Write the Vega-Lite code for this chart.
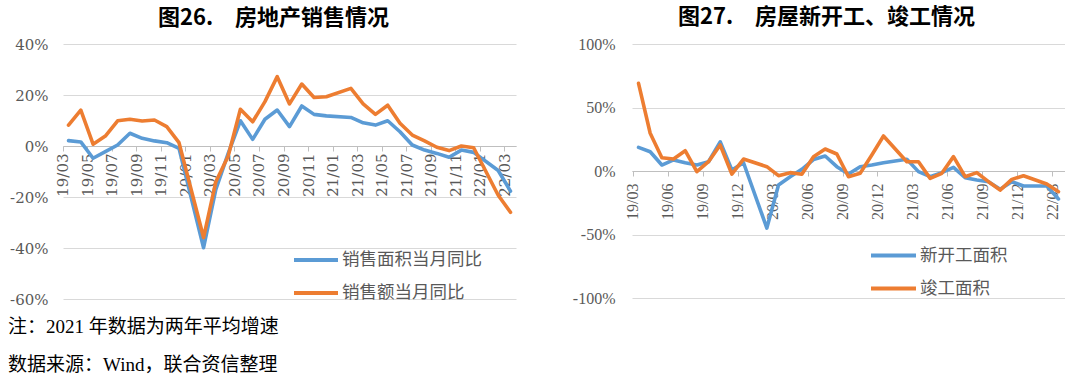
{
  "$schema": "https://vega.github.io/schema/vega-lite/v6.json",
  "background": "white",
  "padding": {"left": 0, "top": 6, "right": 0, "bottom": 0},
  "config": {"view": {"stroke": null}, "concat": {"spacing": 56}},
  "datasets": {
    "sales": [
      {"s": "销售面积当月同比", "m": "19/03", "v": 2.1},
      {"s": "销售面积当月同比", "m": "19/04", "v": 1.6},
      {"s": "销售面积当月同比", "m": "19/05", "v": -4.8},
      {"s": "销售面积当月同比", "m": "19/06", "v": -2.2},
      {"s": "销售面积当月同比", "m": "19/07", "v": 0.4},
      {"s": "销售面积当月同比", "m": "19/08", "v": 5.0},
      {"s": "销售面积当月同比", "m": "19/09", "v": 3.0},
      {"s": "销售面积当月同比", "m": "19/10", "v": 2.0},
      {"s": "销售面积当月同比", "m": "19/11", "v": 1.3},
      {"s": "销售面积当月同比", "m": "19/12", "v": -0.9},
      {"s": "销售面积当月同比", "m": "20/02", "v": -39.9},
      {"s": "销售面积当月同比", "m": "20/03", "v": -17},
      {"s": "销售面积当月同比", "m": "20/04", "v": -3},
      {"s": "销售面积当月同比", "m": "20/05", "v": 9.9},
      {"s": "销售面积当月同比", "m": "20/06", "v": 2.6},
      {"s": "销售面积当月同比", "m": "20/07", "v": 10.5},
      {"s": "销售面积当月同比", "m": "20/08", "v": 14.1},
      {"s": "销售面积当月同比", "m": "20/09", "v": 7.6},
      {"s": "销售面积当月同比", "m": "20/10", "v": 15.7},
      {"s": "销售面积当月同比", "m": "20/11", "v": 12.4},
      {"s": "销售面积当月同比", "m": "20/12", "v": 11.8},
      {"s": "销售面积当月同比", "m": "21/02", "v": 11.2},
      {"s": "销售面积当月同比", "m": "21/03", "v": 9.1},
      {"s": "销售面积当月同比", "m": "21/04", "v": 8.2},
      {"s": "销售面积当月同比", "m": "21/05", "v": 9.9},
      {"s": "销售面积当月同比", "m": "21/06", "v": 5.6},
      {"s": "销售面积当月同比", "m": "21/07", "v": 0.4},
      {"s": "销售面积当月同比", "m": "21/08", "v": -1.6},
      {"s": "销售面积当月同比", "m": "21/09", "v": -2.9},
      {"s": "销售面积当月同比", "m": "21/10", "v": -4.4},
      {"s": "销售面积当月同比", "m": "21/11", "v": -1.6},
      {"s": "销售面积当月同比", "m": "21/12", "v": -2.5},
      {"s": "销售面积当月同比", "m": "22/02", "v": -9.6},
      {"s": "销售面积当月同比", "m": "22/03", "v": -17.7},
      {"s": "销售额当月同比", "m": "19/03", "v": 8.2},
      {"s": "销售额当月同比", "m": "19/04", "v": 14.1},
      {"s": "销售额当月同比", "m": "19/05", "v": 0.7},
      {"s": "销售额当月同比", "m": "19/06", "v": 3.9},
      {"s": "销售额当月同比", "m": "19/07", "v": 9.9},
      {"s": "销售额当月同比", "m": "19/08", "v": 10.5},
      {"s": "销售额当月同比", "m": "19/09", "v": 9.8},
      {"s": "销售额当月同比", "m": "19/10", "v": 10.2},
      {"s": "销售额当月同比", "m": "19/11", "v": 7.6},
      {"s": "销售额当月同比", "m": "19/12", "v": 1.3},
      {"s": "销售额当月同比", "m": "20/02", "v": -35.9},
      {"s": "销售额当月同比", "m": "20/03", "v": -14},
      {"s": "销售额当月同比", "m": "20/04", "v": -4},
      {"s": "销售额当月同比", "m": "20/05", "v": 14.4},
      {"s": "销售额当月同比", "m": "20/06", "v": 9.5},
      {"s": "销售额当月同比", "m": "20/07", "v": 17.4},
      {"s": "销售额当月同比", "m": "20/08", "v": 27.2},
      {"s": "销售额当月同比", "m": "20/09", "v": 16.5},
      {"s": "销售额当月同比", "m": "20/10", "v": 24.3},
      {"s": "销售额当月同比", "m": "20/11", "v": 19.0},
      {"s": "销售额当月同比", "m": "20/12", "v": 19.3},
      {"s": "销售额当月同比", "m": "21/02", "v": 22.6},
      {"s": "销售额当月同比", "m": "21/03", "v": 16.5},
      {"s": "销售额当月同比", "m": "21/04", "v": 12.4},
      {"s": "销售额当月同比", "m": "21/05", "v": 16.0},
      {"s": "销售额当月同比", "m": "21/06", "v": 8.9},
      {"s": "销售额当月同比", "m": "21/07", "v": 4.3},
      {"s": "销售额当月同比", "m": "21/08", "v": 2.0},
      {"s": "销售额当月同比", "m": "21/09", "v": -0.5},
      {"s": "销售额当月同比", "m": "21/10", "v": -1.8},
      {"s": "销售额当月同比", "m": "21/11", "v": 0.0},
      {"s": "销售额当月同比", "m": "21/12", "v": -0.7},
      {"s": "销售额当月同比", "m": "22/02", "v": -19.3},
      {"s": "销售额当月同比", "m": "22/03", "v": -26.0}
    ],
    "build": [
      {"s": "新开工面积", "m": "19/03", "v": 18.6},
      {"s": "新开工面积", "m": "19/04", "v": 15.2},
      {"s": "新开工面积", "m": "19/05", "v": 4.7},
      {"s": "新开工面积", "m": "19/06", "v": 8.7},
      {"s": "新开工面积", "m": "19/07", "v": 6.5},
      {"s": "新开工面积", "m": "19/08", "v": 4.7},
      {"s": "新开工面积", "m": "19/09", "v": 7.3},
      {"s": "新开工面积", "m": "19/10", "v": 23.0},
      {"s": "新开工面积", "m": "19/11", "v": 0.8},
      {"s": "新开工面积", "m": "19/12", "v": 6.5},
      {"s": "新开工面积", "m": "20/02", "v": -44.9},
      {"s": "新开工面积", "m": "20/03", "v": -11},
      {"s": "新开工面积", "m": "20/04", "v": -4.5},
      {"s": "新开工面积", "m": "20/05", "v": 1.3},
      {"s": "新开工面积", "m": "20/06", "v": 9.0},
      {"s": "新开工面积", "m": "20/07", "v": 11.8},
      {"s": "新开工面积", "m": "20/08", "v": 3.4},
      {"s": "新开工面积", "m": "20/09", "v": -2.4},
      {"s": "新开工面积", "m": "20/10", "v": 3.4},
      {"s": "新开工面积", "m": "20/11", "v": 4.7},
      {"s": "新开工面积", "m": "20/12", "v": 6.5},
      {"s": "新开工面积", "m": "21/02", "v": 9.2},
      {"s": "新开工面积", "m": "21/03", "v": -0.5},
      {"s": "新开工面积", "m": "21/04", "v": -4.5},
      {"s": "新开工面积", "m": "21/05", "v": -1.3},
      {"s": "新开工面积", "m": "21/06", "v": 2.9},
      {"s": "新开工面积", "m": "21/07", "v": -5.3},
      {"s": "新开工面积", "m": "21/08", "v": -7.1},
      {"s": "新开工面积", "m": "21/09", "v": -8.4},
      {"s": "新开工面积", "m": "21/10", "v": -14.4},
      {"s": "新开工面积", "m": "21/11", "v": -8.4},
      {"s": "新开工面积", "m": "21/12", "v": -11.8},
      {"s": "新开工面积", "m": "22/02", "v": -11.8},
      {"s": "新开工面积", "m": "22/03", "v": -22.0},
      {"s": "竣工面积", "m": "19/03", "v": 69.0},
      {"s": "竣工面积", "m": "19/04", "v": 29.7},
      {"s": "竣工面积", "m": "19/05", "v": 10.5},
      {"s": "竣工面积", "m": "19/06", "v": 9.4},
      {"s": "竣工面积", "m": "19/07", "v": 16.0},
      {"s": "竣工面积", "m": "19/08", "v": -0.5},
      {"s": "竣工面积", "m": "19/09", "v": 7.3},
      {"s": "竣工面积", "m": "19/10", "v": 20.5},
      {"s": "竣工面积", "m": "19/11", "v": -2.4},
      {"s": "竣工面积", "m": "19/12", "v": 9.4},
      {"s": "竣工面积", "m": "20/02", "v": 3.4},
      {"s": "竣工面积", "m": "20/03", "v": -3.7},
      {"s": "竣工面积", "m": "20/04", "v": -1.3},
      {"s": "竣工面积", "m": "20/05", "v": -2.6},
      {"s": "竣工面积", "m": "20/06", "v": 11.3},
      {"s": "竣工面积", "m": "20/07", "v": 17.3},
      {"s": "竣工面积", "m": "20/08", "v": 13.4},
      {"s": "竣工面积", "m": "20/09", "v": -4.5},
      {"s": "竣工面积", "m": "20/10", "v": -1.8},
      {"s": "竣工面积", "m": "20/11", "v": 12.6},
      {"s": "竣工面积", "m": "20/12", "v": 27.6},
      {"s": "竣工面积", "m": "21/02", "v": 7.3},
      {"s": "竣工面积", "m": "21/03", "v": 7.3},
      {"s": "竣工面积", "m": "21/04", "v": -5.8},
      {"s": "竣工面积", "m": "21/05", "v": -1.8},
      {"s": "竣工面积", "m": "21/06", "v": 11.3},
      {"s": "竣工面积", "m": "21/07", "v": -4.5},
      {"s": "竣工面积", "m": "21/08", "v": -1.3},
      {"s": "竣工面积", "m": "21/09", "v": -8.4},
      {"s": "竣工面积", "m": "21/10", "v": -15.0},
      {"s": "竣工面积", "m": "21/11", "v": -6.6},
      {"s": "竣工面积", "m": "21/12", "v": -3.7},
      {"s": "竣工面积", "m": "22/02", "v": -10.2},
      {"s": "竣工面积", "m": "22/03", "v": -16.3}
    ]
  },
  "title": {
    "text": ["注：2021 年数据为两年平均增速", "数据来源：Wind，联合资信整理"],
    "orient": "bottom", "anchor": "start", "frame": "bounds", "dx": 8,
    "font": "Liberation Serif, Noto Sans CJK SC", "fontSize": 19, "fontWeight": "normal",
    "lineHeight": 38, "color": "#000000", "offset": 11
  },
  "resolve": {"scale": {"color": "independent", "x": "independent", "y": "independent"}, "legend": {"color": "independent"}},
  "hconcat": [
    {
      "width": 453, "height": 255,
      "title": {"text": "图26.　房地产销售情况", "font": "Noto Sans CJK SC", "fontSize": 22, "fontWeight": "bold", "color": "#000000", "anchor": "middle", "offset": 7, "dx": -16},
      "data": {"name": "sales"},
      "mark": {"type": "line", "strokeWidth": 3.6, "strokeJoin": "round", "strokeCap": "round"},
      "encoding": {
        "x": {
          "field": "m", "type": "ordinal",
          "scale": {"type": "point", "padding": 0.45, "domain": ["19/03","19/04","19/05","19/06","19/07","19/08","19/09","19/10","19/11","19/12","20/01","20/02","20/03","20/04","20/05","20/06","20/07","20/08","20/09","20/10","20/11","20/12","21/01","21/02","21/03","21/04","21/05","21/06","21/07","21/08","21/09","21/10","21/11","21/12","22/01","22/02","22/03"]},
          "axis": {"values": ["19/03","19/05","19/07","19/09","19/11","20/01","20/03","20/05","20/07","20/09","20/11","21/01","21/03","21/05","21/07","21/09","21/11","22/01","22/03"],
            "title": null, "labelAngle": 270, "labelFont": "DejaVu Serif", "labelFontSize": 15, "labelColor": "#595959",
            "labelOverlap": false, "offset": -153, "domainColor": "#BFBFBF", "tickColor": "#BFBFBF", "tickSize": 5, "tickOffset": -6,
            "labelPadding": 2, "grid": false}
        },
        "y": {
          "field": "v", "type": "quantitative",
          "scale": {"domain": [-60, 40], "nice": false},
          "axis": {"values": [-60, -40, -20, 0, 20, 40], "title": null, "labelExpr": "datum.value + '%'", "domain": false, "ticks": false,
            "labelPadding": 15, "labelFont": "DejaVu Serif", "labelFontSize": 15, "labelColor": "#595959", "gridColor": "#D9D9D9",
            "minExtent": 63, "maxExtent": 63}
        },
        "color": {
          "field": "s", "type": "nominal",
          "scale": {"domain": ["销售面积当月同比", "销售额当月同比"], "range": ["#5B9BD5", "#ED7D31"]},
          "legend": {"orient": "none", "legendX": 229, "legendY": 192, "title": null, "symbolType": "stroke", "symbolSize": 1936,
            "symbolStrokeWidth": 4, "labelFont": "Noto Sans CJK SC", "labelFontSize": 17.5, "labelColor": "#595959", "rowPadding": -7, "labelOffset": 2}
        }
      }
    },
    {
      "width": 433, "height": 254,
      "title": {"text": "图27.　房屋新开工、竣工情况", "font": "Noto Sans CJK SC", "fontSize": 22, "fontWeight": "bold", "color": "#000000", "anchor": "middle", "offset": 7, "dx": -22},
      "data": {"name": "build"},
      "mark": {"type": "line", "strokeWidth": 3.6, "strokeJoin": "round", "strokeCap": "round"},
      "encoding": {
        "x": {
          "field": "m", "type": "ordinal",
          "scale": {"type": "point", "padding": 0.56, "domain": ["19/03","19/04","19/05","19/06","19/07","19/08","19/09","19/10","19/11","19/12","20/01","20/02","20/03","20/04","20/05","20/06","20/07","20/08","20/09","20/10","20/11","20/12","21/01","21/02","21/03","21/04","21/05","21/06","21/07","21/08","21/09","21/10","21/11","21/12","22/01","22/02","22/03"]},
          "axis": {"values": ["19/03","19/06","19/09","19/12","20/03","20/06","20/09","20/12","21/03","21/06","21/09","21/12","22/03"],
            "title": null, "labelAngle": 270, "labelFont": "Liberation Serif", "labelFontSize": 16, "labelColor": "#595959",
            "labelOverlap": false, "offset": -127, "domainColor": "#BFBFBF", "tickColor": "#BFBFBF", "tickSize": 5, "tickOffset": -6,
            "labelPadding": 7, "grid": false}
        },
        "y": {
          "field": "v", "type": "quantitative",
          "scale": {"domain": [-100, 100], "nice": false},
          "axis": {"values": [-100, -50, 0, 50, 100], "title": null, "labelExpr": "datum.value + '%'", "domain": false, "ticks": false,
            "labelPadding": 17, "labelFont": "Liberation Serif", "labelFontSize": 16, "labelColor": "#595959", "gridColor": "#D9D9D9",
            "minExtent": 57, "maxExtent": 57}
        },
        "color": {
          "field": "s", "type": "nominal",
          "scale": {"domain": ["新开工面积", "竣工面积"], "range": ["#5B9BD5", "#ED7D31"]},
          "legend": {"orient": "none", "legendX": 237, "legendY": 187, "title": null, "symbolType": "stroke", "symbolSize": 2025,
            "symbolStrokeWidth": 4, "labelFont": "Noto Sans CJK SC", "labelFontSize": 17.5, "labelColor": "#595959", "rowPadding": -3, "labelOffset": 2}
        }
      }
    }
  ]
}
